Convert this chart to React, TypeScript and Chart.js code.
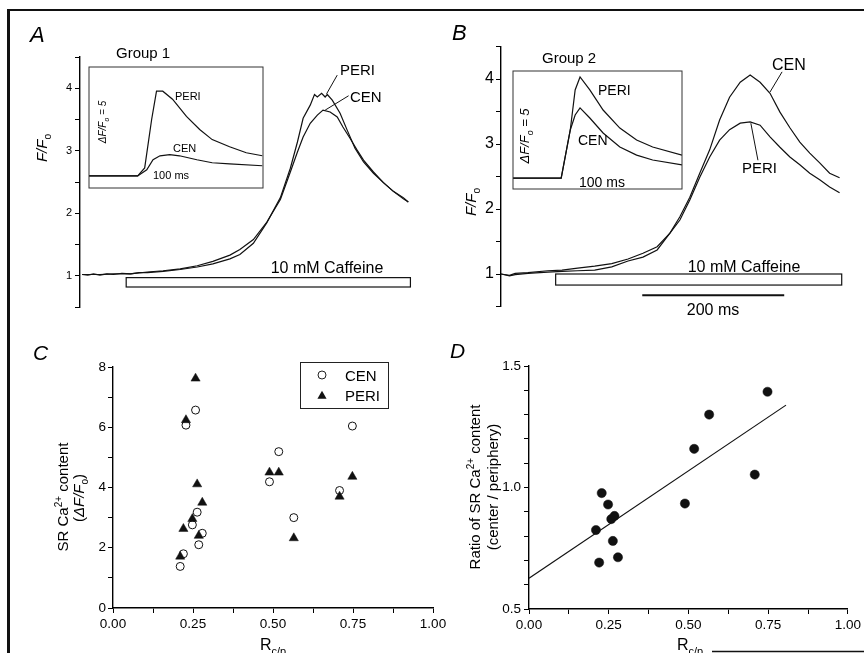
import React, { useEffect, useRef } from 'react';
import { Chart, registerables } from 'chart.js';

Chart.register(...registerables);

const PAGE_W = 864;
const PAGE_H = 653;
const FAMILY = '"Liberation Sans", Arial, Helvetica, sans-serif';

// ---------------- Panel A (Group 1) main traces: time (ms), F/F0 ----------------
const aPeriTime = [0, 8, 16, 25, 35, 44, 56, 68, 80, 92, 114, 138, 162, 184, 208, 222, 241, 260, 279, 293, 303, 311, 321, 327, 331, 337, 342, 345, 352, 363, 373, 384, 396, 410, 424, 438, 452, 459];
const aPeriF = [1.02, 1.01, 1.03, 1.01, 1.03, 1.02, 1.04, 1.03, 1.05, 1.05, 1.07, 1.10, 1.14, 1.19, 1.27, 1.34, 1.52, 1.85, 2.25, 2.72, 3.14, 3.52, 3.73, 3.90, 3.86, 3.92, 3.86, 3.90, 3.81, 3.60, 3.33, 3.04, 2.82, 2.64, 2.49, 2.35, 2.25, 2.18];
const aCenTime = [0, 12, 25, 44, 68, 92, 114, 138, 162, 184, 208, 222, 241, 260, 279, 293, 303, 311, 321, 331, 339, 349, 359, 367, 377, 387, 396, 410, 424, 438, 452, 459];
const aCenF = [1.02, 1.02, 1.02, 1.03, 1.03, 1.06, 1.08, 1.11, 1.16, 1.23, 1.33, 1.42, 1.58, 1.86, 2.22, 2.66, 2.98, 3.22, 3.44, 3.57, 3.65, 3.62, 3.54, 3.38, 3.20, 3.01, 2.85, 2.66, 2.49, 2.35, 2.23, 2.18];
const aCaffeineTime = [62, 462];
const aCaffeineF = [0.82, 0.97];
const aTicksF = [1, 2, 3, 4];

// Panel A inset (ms, ΔF/F0)
const aInsetPeriTime = [0, 70, 80, 90, 97, 106, 120, 140, 159, 177, 202, 226, 249];
const aInsetPeriF = [0, 0, 0.53, 3.73, 5.6, 5.6, 5.07, 3.93, 3.07, 2.4, 1.93, 1.53, 1.33];
const aInsetCenTime = [0, 70, 83, 92, 102, 116, 130, 155, 177, 202, 249];
const aInsetCenF = [0, 0, 0.4, 1.07, 1.33, 1.4, 1.33, 1.07, 0.87, 0.8, 0.67];

// ---------------- Panel B (Group 2) main traces ----------------
const bTime = [0, 12, 20, 38, 66, 86, 108, 132, 156, 179, 200, 220, 238, 252, 266, 280, 294, 308, 322, 337, 351, 365, 379, 393, 407, 421, 435, 449, 463, 477];
const bCenF = [1.0, 0.98, 1.01, 1.02, 1.05, 1.06, 1.09, 1.12, 1.16, 1.23, 1.32, 1.42, 1.63, 1.88, 2.18, 2.55, 2.91, 3.37, 3.72, 3.95, 4.06, 3.95, 3.78, 3.49, 3.25, 3.03, 2.86, 2.71, 2.55, 2.48];
const bPeriF = [1.0, 0.97, 0.99, 1.01, 1.03, 1.04, 1.05, 1.06, 1.11, 1.20, 1.26, 1.37, 1.63, 1.83, 2.14, 2.49, 2.80, 3.06, 3.22, 3.32, 3.34, 3.29, 3.11, 2.95, 2.80, 2.68, 2.55, 2.45, 2.34, 2.25];
const bCaffeineTime = [77, 480];
const bCaffeineF = [0.83, 1.0];
const bScaleBarTime = [199, 399];
const bScaleBarF = 0.672;

// Panel B inset
const bInsetTime = [0, 69, 82, 89, 96, 110, 129, 153, 177, 200, 242];
const bInsetPeriF = [0, 0, 3.2, 5.87, 6.73, 5.87, 4.53, 3.33, 2.53, 2.07, 1.53];
const bInsetCenF = [0, 0, 3.2, 4.2, 4.67, 4.0, 3.0, 2.07, 1.53, 1.2, 0.87];

// ---------------- Panels C & D: per-cell values ----------------
const rcp = [0.21, 0.22, 0.228, 0.258, 0.248, 0.263, 0.268, 0.279, 0.489, 0.518, 0.565, 0.708, 0.748];
const cenContent = [1.38, 1.80, 6.07, 6.57, 2.76, 3.18, 2.10, 2.48, 4.19, 5.19, 3.0, 3.9, 6.04];
const periContent = [1.71, 2.63, 6.24, 7.62, 2.96, 4.11, 2.40, 3.50, 4.5, 4.5, 2.32, 3.70, 4.36];
const ratioCenPeri = [0.825, 0.691, 0.977, 0.870, 0.930, 0.780, 0.883, 0.713, 0.934, 1.159, 1.30, 1.053, 1.394];
const fitX = [0, 0.806];
const fitY = [0.627, 1.339];

// ---------------- helpers ----------------
type Pt = { x: number; y: number };
const zip = (xs: number[], ys: number[]): Pt[] => xs.map((x, i) => ({ x, y: ys[i] }));

function fontStr(size: number, italic = false) {
  return `${italic ? 'italic ' : ''}${size}px ${FAMILY}`;
}

type Run = { s: string; size: number; dy?: number; italic?: boolean };

function drawRuns(ctx: CanvasRenderingContext2D, runs: Run[], x: number, y: number, align: 'left' | 'center' = 'left', rotate = false) {
  ctx.save();
  ctx.fillStyle = '#000';
  ctx.textBaseline = 'alphabetic';
  ctx.textAlign = 'left';
  let w = 0;
  const widths: number[] = [];
  for (const r of runs) {
    ctx.font = fontStr(r.size, r.italic);
    const m = ctx.measureText(r.s).width;
    widths.push(m);
    w += m;
  }
  ctx.translate(x, y);
  if (rotate) ctx.rotate(-Math.PI / 2);
  let cx = align === 'center' ? -w / 2 : 0;
  runs.forEach((r, i) => {
    ctx.font = fontStr(r.size, r.italic);
    ctx.fillText(r.s, cx, r.dy || 0);
    cx += widths[i];
  });
  ctx.restore();
}

function text(ctx: CanvasRenderingContext2D, s: string, x: number, y: number, size: number, italic = false, align: 'left' | 'center' = 'left') {
  drawRuns(ctx, [{ s, size, italic }], x, y, align);
}

function line(ctx: CanvasRenderingContext2D, x0: number, y0: number, x1: number, y1: number, w = 1) {
  ctx.save();
  ctx.strokeStyle = '#111';
  ctx.lineWidth = w;
  ctx.beginPath();
  ctx.moveTo(x0, y0);
  ctx.lineTo(x1, y1);
  ctx.stroke();
  ctx.restore();
}

interface Area { left: number; top: number; right: number; bottom: number }

function layoutFor(a: Area, yW: number, xH: number) {
  return { padding: { left: a.left - yW, top: a.top, right: PAGE_W - a.right, bottom: PAGE_H - a.bottom - xH } };
}

function yAxis(min: number, max: number, step: number, width: number, fontSize: number, fmt: (v: number) => string, tickLength: number, padding: number) {
  return {
    type: 'linear', min, max, position: 'left',
    afterFit: (s: any) => { s.width = width; },
    ticks: { stepSize: step, autoSkip: false, callback: (v: any) => fmt(Number(v)), font: { size: fontSize, family: FAMILY }, color: '#000', padding },
    grid: { drawOnChartArea: false, drawTicks: true, tickLength, color: '#000', lineWidth: 1 },
    border: { display: true, color: '#000', width: 1.4 },
  };
}

function xAxis(min: number, max: number, step: number, height: number, fontSize: number, fmt: (v: number) => string, tickLength: number, padding: number) {
  return {
    type: 'linear', min, max, position: 'bottom',
    afterFit: (s: any) => { s.height = height; },
    ticks: { stepSize: step, autoSkip: false, maxRotation: 0, minRotation: 0, callback: (v: any) => fmt(Number(v)), font: { size: fontSize, family: FAMILY }, color: '#000', padding },
    grid: { drawOnChartArea: false, drawTicks: true, tickLength, color: '#000', lineWidth: 1 },
    border: { display: true, color: '#000', width: 1.6 },
  };
}

const near = (v: number, step: number) => Math.abs(v / step - Math.round(v / step)) < 1e-6;

const traceStyle = { borderColor: '#111', borderWidth: 1.2, pointRadius: 0, fill: false, tension: 0 };

const baseOptions = {
  responsive: false,
  animation: false,
  devicePixelRatio: 1,
  events: [],
};

function hiddenScales(xmin: number, xmax: number, ymin: number, ymax: number) {
  return {
    x: { type: 'linear', min: xmin, max: xmax, display: false },
    y: { type: 'linear', min: ymin, max: ymax, display: false },
  };
}

const noPlugins = { legend: { display: false }, tooltip: { enabled: false } };

function annot(id: string, draw: (ctx: CanvasRenderingContext2D, chart: any) => void) {
  return { id, afterDraw(chart: any) { draw(chart.ctx, chart); } };
}

const FFo = (size: number): Run[] => [
  { s: 'F/F', size, italic: true },
  { s: 'o', size: size * 0.68, dy: size * 0.28 },
];
const dFFo5 = (size: number): Run[] => [
  { s: 'ΔF/F', size, italic: true },
  { s: 'o', size: size * 0.68, dy: size * 0.28, italic: true },
  { s: ' = 5', size, italic: true },
];
const Rcp: Run[] = [
  { s: 'R', size: 16 },
  { s: 'c/p', size: 11, dy: 5 },
];

// ---------------- chart builders ----------------
function makeA(canvas: HTMLCanvasElement) {
  const area = { left: 80, top: 57, right: 409, bottom: 307 };
  return new Chart(canvas, {
    type: 'line',
    data: {
      datasets: [
        { data: zip(aPeriTime, aPeriF), ...traceStyle },
        { data: zip(aCenTime, aCenF), ...traceStyle },
      ],
    },
    options: {
      ...baseOptions,
      layout: layoutFor(area, 40, 0),
      plugins: noPlugins,
      scales: {
        x: { type: 'linear', min: -3, max: 460, display: false },
        y: yAxis(0.5, 4.5, 0.5, 40, 11, (v) => (near(v, 1) && aTicksF.includes(Math.round(v)) ? String(Math.round(v)) : ''), 5, 3),
      },
    } as any,
    plugins: [annot('annotA', (ctx, chart) => {
      const xs = chart.scales.x, ys = chart.scales.y;
      // figure frame
      line(ctx, 7, 10, PAGE_W, 10, 2);
      line(ctx, 8.5, 9, 8.5, PAGE_H, 3);
      line(ctx, 712, 651.5, PAGE_W, 651.5, 1.5);
      // caffeine bar
      const x0 = xs.getPixelForValue(aCaffeineTime[0]), x1 = xs.getPixelForValue(aCaffeineTime[1]);
      const y0 = ys.getPixelForValue(aCaffeineF[1]), y1 = ys.getPixelForValue(aCaffeineF[0]);
      ctx.save(); ctx.strokeStyle = '#111'; ctx.lineWidth = 1.2; ctx.strokeRect(x0, y0, x1 - x0, y1 - y0); ctx.restore();
      // leader lines
      line(ctx, xs.getPixelForValue(359), ys.getPixelForValue(4.21), xs.getPixelForValue(344), ys.getPixelForValue(3.91), 1);
      line(ctx, xs.getPixelForValue(375), ys.getPixelForValue(3.88), xs.getPixelForValue(342), ys.getPixelForValue(3.65), 1);
      // texts
      text(ctx, 'A', 30, 42, 22, true);
      text(ctx, 'PERI', 340, 75, 15);
      text(ctx, 'CEN', 350, 102, 15);
      text(ctx, '10 mM Caffeine', 327, 273, 16, false, 'center');
      drawRuns(ctx, FFo(15), 47, 148, 'center', true);
    })],
  });
}

function makeAInset(canvas: HTMLCanvasElement) {
  const area = { left: 89, top: 67, right: 263, bottom: 188 };
  return new Chart(canvas, {
    type: 'line',
    data: {
      datasets: [
        { data: zip(aInsetPeriTime, aInsetPeriF), ...traceStyle },
        { data: zip(aInsetCenTime, aInsetCenF), ...traceStyle },
      ],
    },
    options: {
      ...baseOptions,
      layout: layoutFor(area, 0, 0),
      plugins: noPlugins,
      scales: hiddenScales(0, 250, -0.8, 7.2),
    } as any,
    plugins: [annot('annotAI', (ctx, chart) => {
      const a = chart.chartArea;
      ctx.save(); ctx.strokeStyle = '#333'; ctx.lineWidth = 1; ctx.strokeRect(a.left, a.top, a.right - a.left, a.bottom - a.top); ctx.restore();
      text(ctx, 'Group 1', 116, 58, 15);
      text(ctx, 'PERI', 175, 100, 11);
      text(ctx, 'CEN', 173, 152, 11);
      text(ctx, '100 ms', 153, 179, 11);
      drawRuns(ctx, dFFo5(10), 106, 122, 'center', true);
    })],
  });
}

function makeB(canvas: HTMLCanvasElement) {
  const area = { left: 501, top: 46.5, right: 841, bottom: 306.5 };
  return new Chart(canvas, {
    type: 'line',
    data: {
      datasets: [
        { data: zip(bTime, bCenF), ...traceStyle },
        { data: zip(bTime, bPeriF), ...traceStyle },
      ],
    },
    options: {
      ...baseOptions,
      layout: layoutFor(area, 40, 0),
      plugins: noPlugins,
      scales: {
        x: { type: 'linear', min: 0, max: 479, display: false },
        y: yAxis(0.5, 4.5, 0.5, 40, 16, (v) => (near(v, 1) && aTicksF.includes(Math.round(v)) ? String(Math.round(v)) : ''), 5, 2),
      },
    } as any,
    plugins: [annot('annotB', (ctx, chart) => {
      const xs = chart.scales.x, ys = chart.scales.y;
      const x0 = xs.getPixelForValue(bCaffeineTime[0]), x1 = xs.getPixelForValue(bCaffeineTime[1]);
      const y0 = ys.getPixelForValue(bCaffeineF[1]), y1 = ys.getPixelForValue(bCaffeineF[0]);
      ctx.save(); ctx.strokeStyle = '#111'; ctx.lineWidth = 1.2; ctx.strokeRect(x0, y0, x1 - x0, y1 - y0); ctx.restore();
      // 200 ms scale bar
      line(ctx, xs.getPixelForValue(bScaleBarTime[0]), ys.getPixelForValue(bScaleBarF), xs.getPixelForValue(bScaleBarTime[1]), ys.getPixelForValue(bScaleBarF), 2);
      // leaders
      line(ctx, xs.getPixelForValue(396), ys.getPixelForValue(4.11), xs.getPixelForValue(379), ys.getPixelForValue(3.80), 1);
      line(ctx, xs.getPixelForValue(362), ys.getPixelForValue(2.75), xs.getPixelForValue(352), ys.getPixelForValue(3.32), 1);
      text(ctx, 'B', 452, 40, 22, true);
      text(ctx, 'CEN', 772, 70, 16);
      text(ctx, 'PERI', 742, 173, 15);
      text(ctx, '10 mM Caffeine', 744, 272, 16, false, 'center');
      text(ctx, '200 ms', 713, 315, 16, false, 'center');
      drawRuns(ctx, FFo(15), 476, 202, 'center', true);
    })],
  });
}

function makeBInset(canvas: HTMLCanvasElement) {
  const area = { left: 513, top: 71, right: 682, bottom: 189 };
  return new Chart(canvas, {
    type: 'line',
    data: {
      datasets: [
        { data: zip(bInsetTime, bInsetPeriF), ...traceStyle },
        { data: zip(bInsetTime, bInsetCenF), ...traceStyle },
      ],
    },
    options: {
      ...baseOptions,
      layout: layoutFor(area, 0, 0),
      plugins: noPlugins,
      scales: hiddenScales(0, 242, -0.73, 7.13),
    } as any,
    plugins: [annot('annotBI', (ctx, chart) => {
      const a = chart.chartArea;
      ctx.save(); ctx.strokeStyle = '#333'; ctx.lineWidth = 1; ctx.strokeRect(a.left, a.top, a.right - a.left, a.bottom - a.top); ctx.restore();
      text(ctx, 'Group 2', 542, 63, 15);
      text(ctx, 'PERI', 598, 95, 14);
      text(ctx, 'CEN', 578, 145, 14);
      text(ctx, '100 ms', 579, 187, 14);
      drawRuns(ctx, dFFo5(13), 529, 136, 'center', true);
    })],
  });
}

function makeC(canvas: HTMLCanvasElement) {
  const area = { left: 113, top: 367, right: 433, bottom: 608 };
  return new Chart(canvas, {
    type: 'scatter',
    data: {
      datasets: [
        { label: 'CEN', data: zip(rcp, cenContent), pointStyle: 'circle', pointRadius: 4, backgroundColor: 'rgba(0,0,0,0)', borderColor: '#111', borderWidth: 1 },
        { label: 'PERI', data: zip(rcp, periContent), pointStyle: 'triangle', pointRadius: 5.3, backgroundColor: '#111', borderColor: '#111', borderWidth: 0.5 },
      ],
    },
    options: {
      ...baseOptions,
      layout: layoutFor(area, 40, 30),
      plugins: noPlugins,
      scales: {
        x: xAxis(0, 1, 0.125, 30, 13.5, (v) => (near(v, 0.25) ? v.toFixed(2) : ''), 5, 3),
        y: yAxis(0, 8, 1, 40, 13.5, (v) => (near(v, 2) ? String(Math.round(v)) : ''), 5, 2),
      },
    } as any,
    plugins: [annot('annotC', (ctx) => {
      text(ctx, 'C', 33, 360, 21, true);
      drawRuns(ctx, [{ s: 'SR Ca', size: 15 }, { s: '2+', size: 10, dy: -6 }, { s: ' content', size: 15 }], 68, 497, 'center', true);
      drawRuns(ctx, [{ s: '(', size: 15 }, { s: 'ΔF/F', size: 15, italic: true }, { s: 'o', size: 10, dy: 4 }, { s: ')', size: 15 }], 84, 498, 'center', true);
      drawRuns(ctx, Rcp, 273, 650, 'center');
      // legend
      ctx.save();
      ctx.strokeStyle = '#222'; ctx.lineWidth = 1;
      ctx.strokeRect(300.5, 362.5, 88, 46);
      ctx.beginPath(); ctx.arc(322, 375, 4, 0, Math.PI * 2); ctx.stroke();
      ctx.fillStyle = '#111';
      ctx.beginPath();
      let a = 0;
      for (let k = 0; k < 3; k++) {
        const px = 322 + Math.sin(a) * 5.3, py = 396 - Math.cos(a) * 5.3;
        if (k === 0) ctx.moveTo(px, py); else ctx.lineTo(px, py);
        a += (2 * Math.PI) / 3;
      }
      ctx.closePath(); ctx.fill();
      ctx.restore();
      text(ctx, 'CEN', 345, 381, 15);
      text(ctx, 'PERI', 345, 401, 15);
    })],
  });
}

function makeD(canvas: HTMLCanvasElement) {
  const area = { left: 529, top: 366, right: 851, bottom: 609 };
  return new Chart(canvas, {
    type: 'scatter',
    data: {
      datasets: [
        { type: 'line', data: zip(fitX, fitY), borderColor: '#111', borderWidth: 1.2, pointRadius: 0, fill: false },
        { data: zip(rcp, ratioCenPeri), pointStyle: 'circle', pointRadius: 4.6, backgroundColor: '#111', borderColor: '#111', borderWidth: 0.5 },
      ],
    },
    options: {
      ...baseOptions,
      layout: layoutFor(area, 40, 30),
      plugins: noPlugins,
      scales: {
        x: xAxis(0, 1, 0.125, 30, 13.5, (v) => (near(v, 0.25) ? v.toFixed(2) : ''), 5, 3),
        y: yAxis(0.5, 1.5, 0.1, 40, 13.5, (v) => (near(v, 0.5) ? v.toFixed(1) : ''), 5, 3),
      },
    } as any,
    plugins: [annot('annotD', (ctx) => {
      text(ctx, 'D', 450, 358, 21, true);
      drawRuns(ctx, [{ s: 'Ratio of SR Ca', size: 15 }, { s: '2+', size: 10, dy: -6 }, { s: ' content', size: 15 }], 480, 487, 'center', true);
      drawRuns(ctx, [{ s: '(center / periphery)', size: 15 }], 498, 487, 'center', true);
      drawRuns(ctx, Rcp, 690, 650, 'center');
    })],
  });
}

export default function App() {
  const refs = useRef<(HTMLCanvasElement | null)[]>([]);
  useEffect(() => {
    const makers = [makeA, makeAInset, makeB, makeBInset, makeC, makeD];
    const charts = makers.map((m, i) => m(refs.current[i] as HTMLCanvasElement));
    return () => charts.forEach((c) => c.destroy());
  }, []);
  return (
    <div style={{ position: 'absolute', left: 0, top: 0, width: PAGE_W, height: PAGE_H, background: '#fff', overflow: 'hidden' }}>
      {[0, 1, 2, 3, 4, 5].map((i) => (
        <canvas
          key={i}
          ref={(el) => { refs.current[i] = el; }}
          width={PAGE_W}
          height={PAGE_H}
          style={{ position: 'absolute', left: 0, top: 0, width: PAGE_W, height: PAGE_H }}
        />
      ))}
    </div>
  );
}
